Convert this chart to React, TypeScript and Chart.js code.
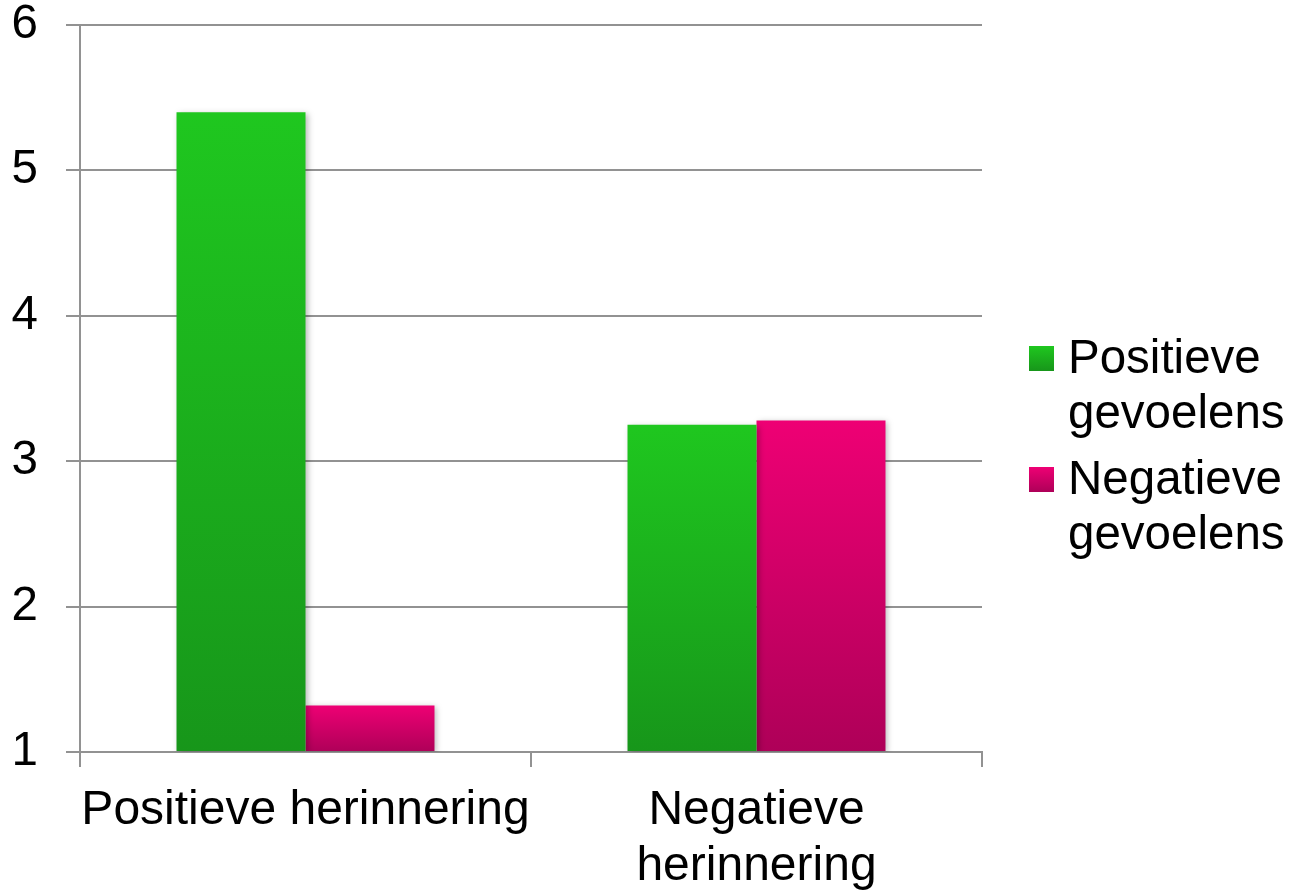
import React, { useEffect, useRef } from "react";
import { Chart, registerables } from "chart.js";

Chart.register(...registerables);

const categories = [["Positieve herinnering"], ["Negatieve", "herinnering"]];
const seriesNames = ["Positieve gevoelens", "Negatieve gevoelens"];
const legendLines = [
  ["Positieve", "gevoelens"],
  ["Negatieve", "gevoelens"],
];
const positiveValues = [5.4, 3.25];
const negativeValues = [1.32, 3.28];
const yMin = 1;
const yMax = 6;

const topColors = ["#1fc71f", "#ee0074"];
const bottomColors = ["#17961a", "#ae0058"];
const FONT = "'Liberation Sans', Arial, sans-serif";
const GRID = "#929292";
const GW = 2;
const FS = 47.5;

function barGradient(ctx: any, si: number) {
  const chart = ctx.chart;
  if (!chart.chartArea || !chart.scales || !chart.scales.y) return topColors[si];
  const y = chart.scales.y;
  const v = ctx.raw as number;
  const top = y.getPixelForValue(v);
  const bottom = y.getPixelForValue(yMin);
  if (!isFinite(top) || !isFinite(bottom) || bottom - top < 1) return topColors[si];
  const g = chart.ctx.createLinearGradient(0, top, 0, bottom);
  g.addColorStop(0, topColors[si]);
  g.addColorStop(1, bottomColors[si]);
  return g;
}

const shadowPlugin = {
  id: "barShadow",
  beforeDatasetsDraw(chart: any) {
    const c = chart.ctx;
    c.save();
    c.shadowColor = "rgba(0,0,0,0.28)";
    c.shadowBlur = 6;
    c.shadowOffsetX = 2;
    c.shadowOffsetY = 2;
  },
  afterDatasetsDraw(chart: any) {
    chart.ctx.restore();
  },
};

const legendPlugin = {
  id: "sideLegend",
  afterDraw(chart: any) {
    const c = chart.ctx;
    c.save();
    const boxX = chart.chartArea.right + 47;
    const textX = boxX + 39;
    const startBaseline = 373;
    const lineStep = 55;
    const itemStep = 121;
    legendLines.forEach((lines, i) => {
      const base = startBaseline + i * itemStep;
      const boxTop = base - 27;
      const g = c.createLinearGradient(0, boxTop, 0, boxTop + 25);
      g.addColorStop(0, topColors[i]);
      g.addColorStop(1, bottomColors[i]);
      c.fillStyle = g;
      c.fillRect(boxX, boxTop, 25, 25);
      c.fillStyle = "#000";
      c.font = `${FS}px ${FONT}`;
      c.textBaseline = "alphabetic";
      c.textAlign = "left";
      lines.forEach((ln, j) => {
        c.fillText(ln, textX, base + j * lineStep);
      });
    });
    c.restore();
  },
};

export default function App() {
  const ref = useRef<HTMLCanvasElement | null>(null);

  useEffect(() => {
    if (!ref.current) return;
    const chart = new Chart(ref.current, {
      type: "bar",
      data: {
        labels: categories as any,
        datasets: [
          {
            label: seriesNames[0],
            data: positiveValues,
            backgroundColor: (ctx: any) => barGradient(ctx, 0),
            base: yMin,
            borderWidth: 0,
          } as any,
          {
            label: seriesNames[1],
            data: negativeValues,
            backgroundColor: (ctx: any) => barGradient(ctx, 1),
            base: yMin,
            borderWidth: 0,
          } as any,
        ],
      },
      options: {
        animation: false,
        responsive: true,
        maintainAspectRatio: false,
        datasets: {
          bar: { categoryPercentage: 0.572, barPercentage: 1.0 },
        } as any,
        layout: { padding: { top: 0, right: 309, left: 0, bottom: 0 } },
        plugins: {
          legend: { display: false },
          tooltip: { enabled: false },
        },
        scales: {
          x: {
            grid: {
              offset: true,
              drawOnChartArea: false,
              drawTicks: true,
              tickLength: 15,
              color: GRID,
              lineWidth: GW,
            },
            border: { color: GRID, width: GW },
            ticks: {
              color: "#000",
              padding: 16,
              maxRotation: 0,
              autoSkip: false,
              font: { family: FONT, size: 48, lineHeight: 1.16 },
            },
            afterFit(scale: any) {
              scale.height = 140;
            },
          },
          y: {
            min: yMin,
            max: yMax,
            ticks: {
              stepSize: 1,
              color: "#000",
              padding: 28,
              font: { family: FONT, size: FS, lineHeight: 1.0 },
            },
            grid: {
              color: GRID,
              lineWidth: GW,
              tickLength: 14,
            },
            border: { color: GRID, width: GW },
            afterFit(scale: any) {
              scale.width = 80;
              scale.paddingTop = 25;
              scale.paddingBottom = 0;
            },
          },
        },
      },
      plugins: [shadowPlugin, legendPlugin],
    });
    return () => chart.destroy();
  }, []);

  return (
    <div
      style={{
        position: "fixed",
        left: 0,
        top: 0,
        width: 1291,
        height: 892,
        background: "#fff",
      }}
    >
      <canvas ref={ref} />
    </div>
  );
}
